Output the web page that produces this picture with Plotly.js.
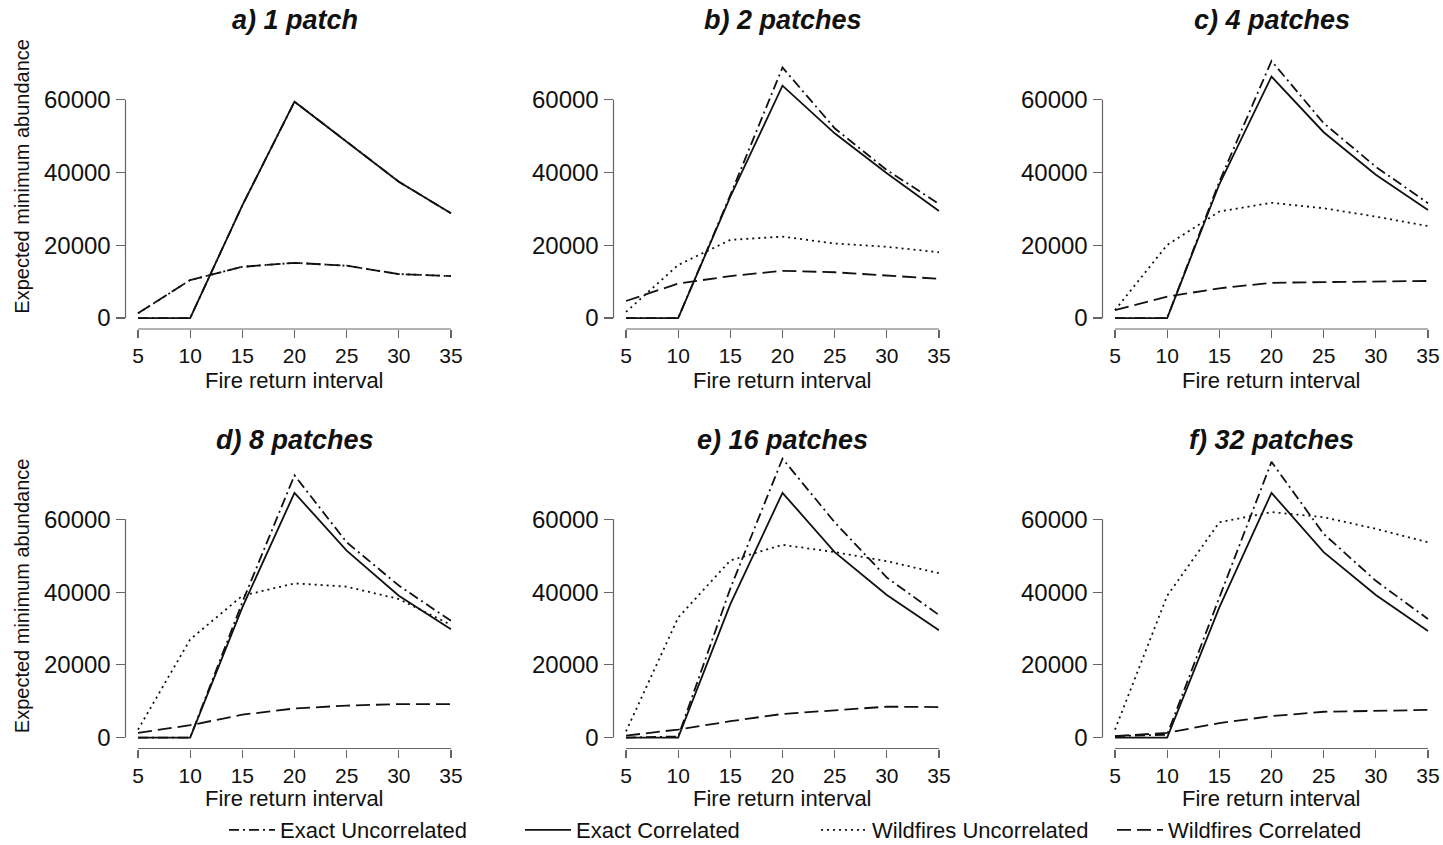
<!DOCTYPE html>
<html>
<head>
<meta charset="utf-8">
<script src="https://cdn.plot.ly/plotly-3.0.1.min.js"></script>
<style>
  html, body { margin: 0; padding: 0; background: #fff; }
  #chart { width: 1443px; height: 845px; }
</style>
</head>
<body>
<div id="chart"></div>
<script>
// Fire return interval (x values shared by every panel)
const fireInterval = [5, 10, 15, 20, 25, 30, 35];

// Panel titles, one per number of patches
const panelTitles = ['a) 1 patch', 'b) 2 patches', 'c) 4 patches',
                     'd) 8 patches', 'e) 16 patches', 'f) 32 patches'];

// Series names (legend order)
const seriesNames = ['Exact Uncorrelated', 'Exact Correlated',
                     'Wildfires Uncorrelated', 'Wildfires Correlated'];

// Expected minimum abundance, one row per panel (a..f)
const exactUncorrelated = [
  [0, 0, 31000, 59500, 48500, 37500, 28800],
  [0, 0, 33800, 68900, 52200, 40700, 31400],
  [0, 0, 37500, 70700, 53600, 41600, 31600],
  [0, 0, 37200, 72100, 53700, 41800, 32100],
  [0, 300, 41000, 76700, 59200, 44000, 33700],
  [400, 800, 38500, 75800, 56000, 43100, 32600]
];
const exactCorrelated = [
  [0, 0, 31000, 59500, 48500, 37500, 28800],
  [0, 0, 33400, 63900, 50800, 39800, 29450],
  [0, 0, 36800, 66400, 51100, 39400, 29700],
  [0, 0, 35800, 67300, 51400, 39000, 29800],
  [0, 0, 36700, 67300, 51000, 39200, 29500],
  [0, 0, 35800, 67300, 51000, 39200, 29300]
];
const wildfiresUncorrelated = [
  [1300, 10450, 14100, 15200, 14400, 12100, 11550],
  [1700, 14600, 21500, 22400, 20500, 19600, 18100],
  [2200, 20100, 29300, 31700, 30200, 27900, 25300],
  [2200, 27000, 39000, 42400, 41500, 38100, 31000],
  [1700, 33000, 48700, 53000, 51000, 48500, 45200],
  [2200, 39000, 59200, 62000, 60600, 57400, 53700]
];
const wildfiresCorrelated = [
  [1300, 10450, 14100, 15200, 14400, 12100, 11550],
  [4700, 9500, 11550, 13000, 12600, 11800, 10800],
  [2200, 5900, 8200, 9700, 9900, 10000, 10200],
  [1300, 3400, 6300, 8000, 8800, 9200, 9200],
  [550, 2200, 4500, 6500, 7500, 8500, 8400],
  [400, 1300, 4000, 5900, 7100, 7300, 7600]
];

// Y tick labels
const yTickVals = [0, 20000, 40000, 60000];
const yTickText = ['0', '20000', '40000', '60000'];

const W = 1443, H = 845;
const FONT = 'Liberation Sans, Arial, Helvetica, sans-serif';
const INK = '#111111';
const AXIS = '#666666';

// Plot regions in pixels
const colLeft = [125.5, 613.5, 1102.5];
const colWidth = 338;
const rowTop = [34.4, 453.9];
const rowHeight = 294.6;

const lineStyles = [
  { dash: '10px,4px,2px,4px', width: 1.8 },
  { dash: 'solid', width: 1.8 },
  { dash: '2px,4px', width: 1.8 },
  { dash: '14px,6px', width: 1.8 }
];
const seriesData = [exactUncorrelated, exactCorrelated, wildfiresUncorrelated, wildfiresCorrelated];

const traces = [];
const layout = {
  width: W, height: H, autosize: false,
  margin: { l: 0, r: 0, t: 0, b: 0, autoexpand: false },
  paper_bgcolor: '#fff', plot_bgcolor: '#fff',
  showlegend: true,
  legend: {
    orientation: 'h', x: 224 / W, y: -6 / H, xanchor: 'left', yanchor: 'bottom',
    entrywidth: 235, entrywidthmode: 'pixels', itemwidth: 46,
    font: { family: FONT, size: 22, color: INK }, bgcolor: 'rgba(0,0,0,0)',
    traceorder: 'normal'
  },
  annotations: [],
  shapes: []
};

for (let p = 0; p < 6; p++) {
  const row = Math.floor(p / 3), col = p % 3;
  const sfx = p === 0 ? '' : String(p + 1);
  const xa = 'xaxis' + sfx, ya = 'yaxis' + sfx;
  const xr = 'x' + sfx, yr = 'y' + sfx;
  const x0 = colLeft[col] / W, x1 = (colLeft[col] + colWidth) / W;
  const y1 = 1 - rowTop[row] / H, y0 = 1 - (rowTop[row] + rowHeight) / H;

  layout[xa] = {
    domain: [x0, x1], anchor: yr, range: [3.8, 36.2],
    tickvals: fireInterval, ticks: 'outside', ticklen: 8, tickwidth: 1.2, tickcolor: AXIS,
    ticklabelstandoff: 0,
    showgrid: false, zeroline: false, showline: false, fixedrange: true,
    tickfont: { family: FONT, size: 21, color: INK }
  };
  layout[ya] = {
    domain: [y0, y1], anchor: xr, range: [-3000, 78000],
    tickvals: yTickVals, ticktext: yTickText, ticks: 'outside', ticklen: 9, tickwidth: 1.2,
    tickcolor: AXIS, ticklabelstandoff: 0,
    showgrid: false, zeroline: false, showline: false, fixedrange: true,
    tickfont: { family: FONT, size: 24, color: INK }
  };

  // axis lines spanning the tick range only
  layout.shapes.push({
    type: 'line', xref: xr, yref: yr + ' domain', x0: 5, x1: 35, y0: 0, y1: 0,
    line: { color: AXIS, width: 1.2 }
  });
  layout.shapes.push({
    type: 'line', xref: xr + ' domain', yref: yr, x0: 0, x1: 0, y0: 0, y1: 60000,
    line: { color: AXIS, width: 1.2 }
  });

  for (let s = 0; s < 4; s++) {
    traces.push({
      type: 'scatter', mode: 'lines', x: fireInterval, y: seriesData[s][p],
      xaxis: xr, yaxis: yr, name: seriesNames[s], showlegend: p === 0,
      line: { color: INK, width: lineStyles[s].width, dash: lineStyles[s].dash },
      hoverinfo: 'skip'
    });
  }

  const cx = (colLeft[col] + colWidth / 2) / W;
  layout.annotations.push({
    text: panelTitles[p], xref: 'paper', yref: 'paper', x: cx, y: 1 - (row === 0 ? 20 : 440) / H,
    xanchor: 'center', yanchor: 'middle', showarrow: false,
    font: { family: FONT, size: 27, color: INK, weight: 'bold', style: 'italic' }
  });
  layout.annotations.push({
    text: 'Fire return interval', xref: 'paper', yref: 'paper', x: cx, y: 1 - (row === 0 ? 380 : 798) / H,
    xanchor: 'center', yanchor: 'middle', showarrow: false,
    font: { family: FONT, size: 22, color: INK }
  });
  if (col === 0) {
    layout.annotations.push({
      text: 'Expected minimum abundance', xref: 'paper', yref: 'paper', x: 22 / W,
      y: 1 - (rowTop[row] + rowHeight / 2 - 5) / H, textangle: -90,
      xanchor: 'center', yanchor: 'middle', showarrow: false,
      font: { family: FONT, size: 20, color: INK }
    });
  }
}

Plotly.newPlot('chart', traces, layout, { displayModeBar: false, staticPlot: true });
</script>
</body>
</html>
